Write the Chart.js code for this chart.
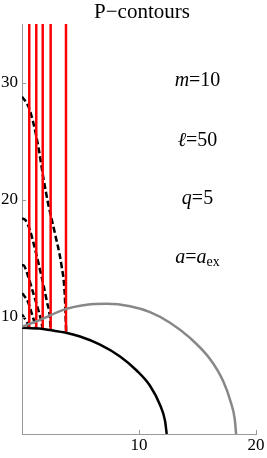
<!DOCTYPE html>
<html>
<head>
<meta charset="utf-8">
<script src="https://cdn.jsdelivr.net/npm/chart.js@4/dist/chart.umd.min.js"></script>
<style>
  body { margin: 0; background: #fff; }
  canvas { display: block; }
</style>
</head>
<body>
<canvas id="myChart" width="267" height="458"></canvas>
<script>
// values
let xTicks = [10, 20]
let yTicks = [10, 20, 30]

let redX = [0.62, 1.22, 1.77, 2.45, 3.76]
let redBottom = [9.05, 9.02, 8.96, 8.86, 8.66]
let redTop = 35

let dashA = [[0, 28.8], [0.54, 27.97], [0.97, 26.55], [1.39, 24.56], [1.82, 21.9], [2.25, 19.6], [2.82, 17.1], [3.39, 14.3], [3.65, 12.0], [3.78, 8.65]]
let dashB = [[0, 18.4], [0.26, 18.3], [0.68, 17.4], [1.11, 15.8], [1.68, 13.4], [2.15, 11.2], [2.38, 10.0], [2.45, 8.86]]
let dashC = [[0, 14.4], [0.11, 14.4], [0.54, 13.4], [0.97, 12.0], [1.39, 10.6], [1.65, 9.6], [1.77, 8.96]]
let dashD = [[0, 12.0], [0.11, 11.9], [0.54, 11.2], [0.83, 10.3], [1.08, 9.5], [1.22, 9.02]]
let dashE = [[0, 10.2], [0.4, 9.6], [0.62, 9.05]]

let blackCurve = [[0, 9.08], [1.5, 9.0], [2.5, 8.85], [3.68, 8.66], [4.96, 8.32], [6.67, 7.63], [8.38, 6.62], [9.80, 5.42], [10.94, 4.12], [11.79, 2.5], [12.22, 1.15], [12.37, 0]]
let grayCurve = [[0, 9.17], [1.54, 9.74], [3.53, 10.6], [5.53, 11.03], [7.24, 11.11], [9.23, 10.9], [10.94, 10.4], [12.65, 9.5], [14.36, 8.2], [16.07, 6.4], [17.2, 4.5], [17.85, 2.7], [18.18, 1.3], [18.3, 0]]

let labelX = 15
let labelY = [29.7, 24.6, 19.6, 14.6]

const serif = 'Liberation Serif'
const toPts = arr => arr.map(p => ({ x: p[0], y: p[1] }))

let datasets = []

datasets.push({ data: toPts(grayCurve), borderColor: '#888888' })
datasets.push({ data: toPts(blackCurve), borderColor: '#000000' })

redX.forEach((x, i) => {
    datasets.push({
        data: [{ x: x, y: redBottom[i] }, { x: x, y: redTop }],
        borderColor: '#ff0000'
    })
})

;[dashA, dashB, dashC, dashD, dashE].forEach(d => {
    datasets.push({ data: toPts(d), borderColor: '#000000', borderDash: [6, 3] })
})

datasets.forEach(d => {
    d.borderWidth = 2.5
    d.pointRadius = 0
    d.fill = false
    d.tension = 0.4
    d.cubicInterpolationMode = 'monotone'
})

// title, parameter labels and inward ticks
const extras = {
    id: 'extras',
    afterDraw(chart) {
        let c = chart.ctx
        let xs = chart.scales.x
        let ys = chart.scales.y
        let area = chart.chartArea
        c.save()

        c.strokeStyle = '#999'
        c.lineWidth = 1
        xTicks.forEach(v => {
            let px = Math.round(xs.getPixelForValue(v)) + 0.5
            c.beginPath()
            c.moveTo(px, area.bottom)
            c.lineTo(px, area.bottom - 4)
            c.stroke()
        })
        yTicks.forEach(v => {
            let py = Math.round(ys.getPixelForValue(v)) + 0.5
            c.beginPath()
            c.moveTo(area.left, py)
            c.lineTo(area.left + 4, py)
            c.stroke()
        })

        c.fillStyle = '#000'
        c.textAlign = 'center'
        c.textBaseline = 'alphabetic'
        c.font = `21px ${serif}`
        c.fillText('P\u2212contours', 142, 18)

        let labels = [
            [{ t: 'm', it: true }, { t: '=10' }],
            [{ t: '\u2113', it: true }, { t: '=50' }],
            [{ t: 'q', it: true }, { t: '=5' }],
            [{ t: 'a', it: true }, { t: '=' }, { t: 'a', it: true }, { t: 'ex', sub: true }]
        ]
        let cx = xs.getPixelForValue(labelX)
        labels.forEach((segs, i) => {
            let py = ys.getPixelForValue(labelY[i])
            let fontOf = s => s.sub ? `14px ${serif}` : `${s.it ? 'italic ' : ''}20px ${serif}`
            let total = 0
            segs.forEach(s => {
                c.font = fontOf(s)
                total += c.measureText(s.t).width
            })
            let x = cx - total / 2
            c.textAlign = 'left'
            segs.forEach(s => {
                c.font = fontOf(s)
                c.fillText(s.t, x, s.sub ? py + 3 : py)
                x += c.measureText(s.t).width
            })
        })
        c.restore()
    }
}

const ctx = document.getElementById('myChart').getContext('2d')

let myChart = new Chart(ctx, {
    type: 'line',
    data: { datasets: datasets },
    options: {
        responsive: false,
        animation: false,
        layout: { padding: { left: 0, right: 11, top: 24, bottom: 0 } },
        plugins: { legend: { display: false }, tooltip: { enabled: false } },
        scales: {
            x: {
                type: 'linear', min: 0, max: 20,
                afterFit: s => { s.height = 24 },
                afterBuildTicks: s => { s.ticks = xTicks.map(v => ({ value: v })) },
                grid: { display: false, drawTicks: false },
                border: { color: '#999', width: 1 },
                ticks: { color: '#000', font: { family: serif, size: 17 }, padding: 1, maxRotation: 0 }
            },
            y: {
                type: 'linear', min: 0, max: 35,
                afterFit: s => { s.width = 22 },
                afterBuildTicks: s => { s.ticks = yTicks.map(v => ({ value: v })) },
                grid: { display: false, drawTicks: false },
                border: { color: '#999', width: 1 },
                ticks: { color: '#000', font: { family: serif, size: 17 }, padding: 4 }
            }
        }
    },
    plugins: [extras]
})
</script>
</body>
</html>
